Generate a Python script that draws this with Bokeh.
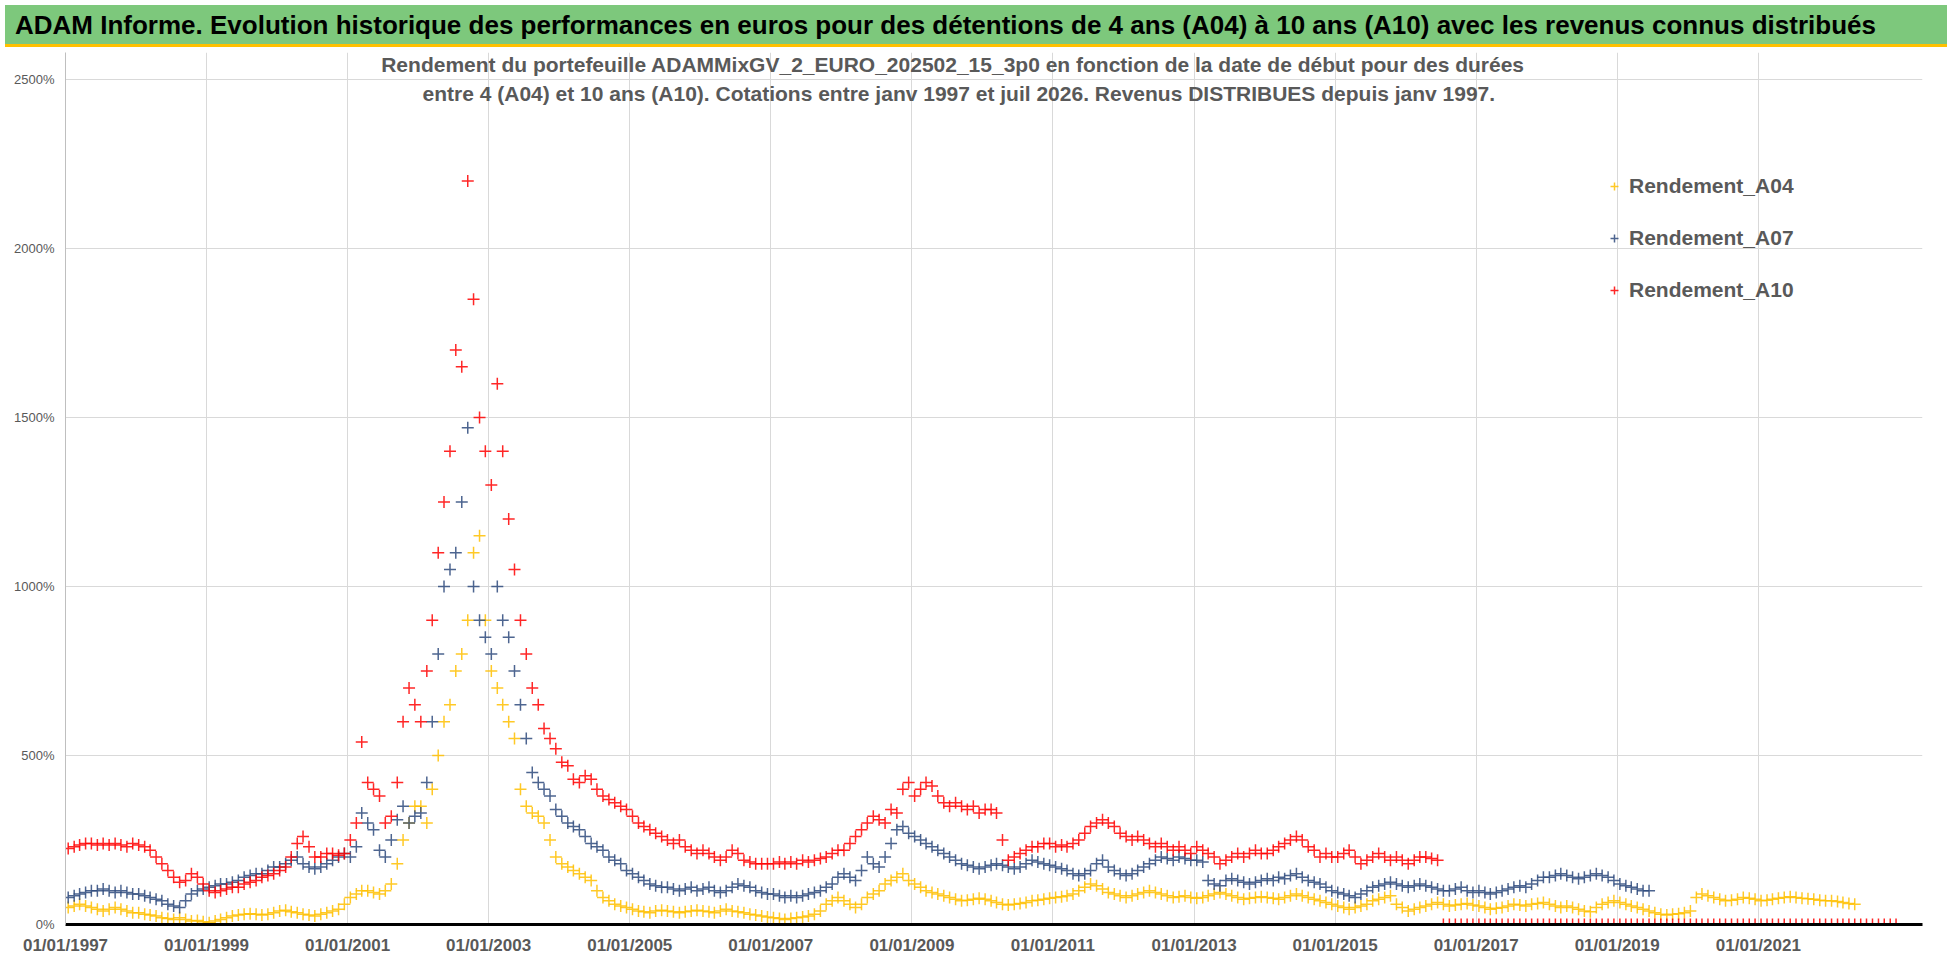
import datetime as dt
from bokeh.plotting import figure
from bokeh.models import (FixedTicker, DatetimeTickFormatter, PrintfTickFormatter, Label,
                          Legend, LegendItem, ColumnDataSource, Div, Range1d)
from bokeh.layouts import column
from bokeh.embed import file_html
from bokeh.resources import INLINE

# Monthly values (%), starting Jan 1997
a04 = [50,55,60,55,50,45,40,45,50,45,40,35,
       35,30,28,25,20,18,15,20,15,10,12,8,
       5,10,15,20,25,28,30,32,30,28,30,35,
       40,42,38,35,30,28,25,30,35,40,45,60,
       80,90,100,100,95,90,100,120,180,250,300,350,
       350,300,400,500,600,650,750,800,900,1100,1150,900,
       750,700,650,600,550,400,350,330,320,300,250,200,
       180,170,160,150,140,130,100,80,70,60,55,50,
       45,40,38,35,40,42,40,38,35,38,40,42,
       40,38,35,40,45,40,38,35,30,28,25,22,
       20,18,15,18,20,22,25,30,40,60,70,80,
       70,60,50,60,80,90,100,120,130,140,150,130,
       120,110,100,95,90,85,80,75,70,72,75,78,
       75,70,65,60,58,60,62,65,70,72,75,78,
       80,82,85,90,100,110,120,115,105,95,90,85,
       80,85,90,95,100,95,90,85,80,82,85,80,
       78,80,85,90,95,90,85,80,75,78,80,82,
       80,78,75,80,85,90,85,80,75,70,65,60,
       55,50,45,50,55,60,70,75,80,85,60,50,
       40,45,50,55,60,65,60,55,58,60,62,58,
       55,50,45,48,50,55,60,58,55,60,62,65,
       60,55,50,55,50,45,40,38,50,60,65,70,
       65,60,55,50,45,40,35,30,28,30,32,35,
       40,80,90,85,80,75,70,72,75,80,78,75,
       70,72,75,78,80,82,80,78,76,75,72,70,
       70,68,65,62,60]
a07 = [80,85,90,95,100,100,105,100,95,100,95,90,
       90,85,80,75,70,60,55,50,70,90,100,105,
       110,115,120,120,125,130,140,145,150,150,160,170,
       170,180,190,200,180,170,165,170,180,190,200,210,
       200,230,330,300,280,220,200,250,310,350,300,320,
       330,420,600,800,1000,1050,1100,1250,1470,1000,900,850,
       800,1000,900,850,750,650,550,450,420,400,380,340,
       320,300,290,280,260,240,230,220,200,190,180,160,
       150,140,130,120,115,110,110,105,100,105,110,100,
       105,110,100,95,100,110,120,115,110,100,95,90,
       90,85,80,85,80,85,90,95,100,110,120,140,
       150,140,130,160,200,180,170,200,240,280,290,270,
       260,250,240,230,220,210,200,190,180,175,170,165,
       170,175,180,175,170,165,170,180,190,185,180,175,
       170,165,160,150,145,150,160,180,190,170,160,150,
       145,150,160,170,180,190,200,195,190,200,195,190,
       190,185,130,120,115,130,135,130,125,120,125,130,
       135,130,140,135,145,150,140,130,125,120,110,100,
       95,90,85,80,90,100,110,115,120,125,120,115,
       110,115,120,115,110,105,100,100,105,110,100,95,
       100,95,90,95,100,105,110,115,110,120,130,140,
       140,145,150,145,140,135,140,145,150,145,140,130,
       120,115,110,105,100,100]
a10 = [225,230,235,240,240,235,240,235,240,235,230,240,
       235,230,220,200,180,160,140,125,130,150,140,120,
       100,95,100,105,110,110,120,125,130,140,145,150,
       160,170,200,240,260,230,200,200,210,210,205,210,
       250,300,540,420,400,380,300,320,420,600,700,650,
       600,750,900,1100,1250,1400,1700,1650,2200,1850,1500,1400,
       1300,1600,1400,1200,1050,900,800,700,650,580,550,520,
       480,470,430,420,440,430,400,380,370,360,350,340,
       320,300,290,280,270,260,250,240,250,230,220,210,
       220,210,200,190,200,220,210,190,185,180,180,180,
       180,185,180,185,180,190,185,190,195,200,210,220,
       220,240,260,280,300,320,310,300,340,330,400,420,
       380,400,420,410,380,360,350,360,350,340,350,330,
       340,340,330,250,190,200,210,220,230,230,240,240,
       230,235,230,240,250,270,290,300,310,300,290,270,
       260,250,260,250,240,230,240,230,220,230,220,210,
       230,220,210,200,180,190,200,210,200,210,220,210,
       210,220,230,240,250,260,250,230,220,200,210,200,
       200,210,220,200,180,190,200,210,200,190,200,190,
       180,190,200,200,195,190] + [0] * 78

y_ticks = [0, 500, 1000, 1500, 2000, 2500]
x_tick_years = list(range(1997, 2022, 2))

def months(n):
    return [dt.datetime(1997 + i // 12, i % 12 + 1, 15) for i in range(n)]

def ms(d):
    return (d - dt.datetime(1970, 1, 1)).total_seconds() * 1000

GREY = "#595959"
p = figure(width=1942, height=921, x_axis_type="datetime", output_backend="svg",
           toolbar_location=None,
           x_range=Range1d(ms(dt.datetime(1997, 1, 1)), ms(dt.datetime(2023, 5, 1))),
           y_range=Range1d(0, 2580),
           min_border_left=65, min_border_right=20, min_border_top=0, min_border_bottom=49)
p.outline_line_color = None

renders = []
for name, vals, col in [("Rendement_A04", a04, "#FFC000"),
                        ("Rendement_A07", a07, "#2E4A7D"),
                        ("Rendement_A10", a10, "#FF0000")]:
    src = ColumnDataSource(dict(x=months(len(vals)), y=vals))
    r = p.scatter("x", "y", source=src, marker="cross", size=12, line_width=1.5,
                  line_color=col, line_alpha=0.85)
    renders.append((name, r))

p.xaxis.ticker = FixedTicker(ticks=[ms(dt.datetime(y, 1, 1)) for y in x_tick_years])
fmt = "%d/%m/%Y"
p.xaxis.formatter = DatetimeTickFormatter(years=fmt, months=fmt, days=fmt, hours=fmt,
                                          minutes=fmt, seconds=fmt, milliseconds=fmt)
p.yaxis.ticker = FixedTicker(ticks=y_ticks)
p.yaxis.formatter = PrintfTickFormatter(format="%d%%")
p.xaxis.major_label_text_font = "Liberation Sans"
p.xaxis.major_label_text_font_style = "bold"
p.xaxis.major_label_text_font_size = "17px"
p.xaxis.major_label_text_color = GREY
p.yaxis.major_label_text_font = "Liberation Sans"
p.yaxis.major_label_text_font_size = "13px"
p.yaxis.major_label_text_color = GREY
p.xaxis.axis_line_color = "black"
p.xaxis.axis_line_width = 3
p.yaxis.axis_line_color = "#BFBFBF"
for ax in (p.xaxis, p.yaxis):
    ax.major_tick_line_color = None
    ax.minor_tick_line_color = None
p.xgrid.grid_line_color = "#D9D9D9"
p.ygrid.grid_line_color = "#D9D9D9"

mid = ms(dt.datetime(2009, 9, 1))
for txt, yv in [("Rendement du portefeuille ADAMMixGV_2_EURO_202502_15_3p0  en fonction de la date de début pour  des durées", 2545),
                ("entre 4 (A04) et 10 ans (A10). Cotations entre janv 1997 et juil 2026. Revenus DISTRIBUES depuis janv 1997.", 2460)]:
    p.add_layout(Label(x=mid, y=yv, text=txt, text_align="center", text_baseline="middle",
                       text_font="Liberation Sans", text_font_style="bold",
                       text_font_size="21px", text_color=GREY))

legend = Legend(items=[LegendItem(label=n, renderers=[r]) for n, r in renders],
                location=(1539, 617), label_text_font="Liberation Sans",
                label_text_font_style="bold", label_text_font_size="21px",
                label_text_color=GREY, border_line_color=None, background_fill_alpha=0,
                spacing=18, label_height=34, glyph_height=34, glyph_width=20,
                margin=0, padding=0)
p.add_layout(legend, "center")

title = Div(text="ADAM Informe. Evolution historique des performances en euros pour des détentions de 4 ans (A04) à 10 ans (A10) avec les revenus connus distribués",
            width=1942, height=42,
            styles={"background-color": "#7DC87C", "font-family": "Liberation Sans",
                    "font-weight": "bold", "font-size": "26px", "color": "black",
                    "line-height": "40px", "padding-left": "10px", "box-sizing": "border-box",
                    "width": "1942px", "white-space": "nowrap", "overflow": "hidden",
                    "border-bottom": "3px solid #FFC000"})

open("out.html", "w").write(file_html(column(title, p, spacing=0), INLINE))
